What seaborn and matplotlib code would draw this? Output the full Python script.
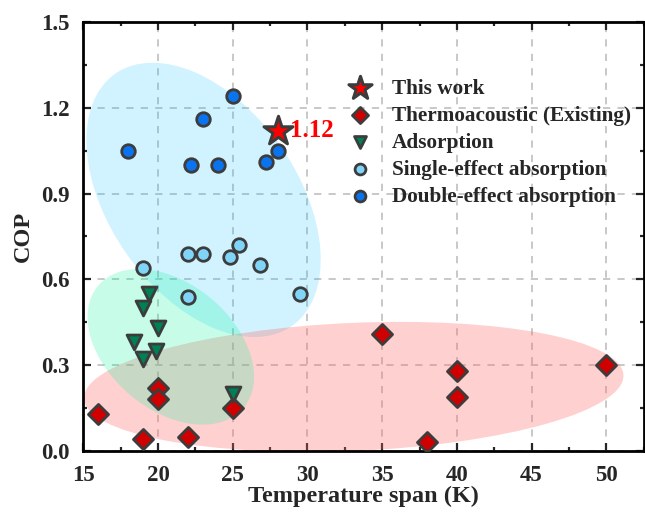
import numpy as np
import pandas as pd
import matplotlib.pyplot as plt
import seaborn as sns
from matplotlib.patches import Ellipse
from matplotlib.transforms import Affine2D
from matplotlib.ticker import MultipleLocator, AutoMinorLocator

# ---------------------------------------------------------------
# data (temperature span in K, COP)
# ---------------------------------------------------------------
this_work_x = [28]
this_work_cop = [1.12]

thermo_x = [16, 19, 20, 20, 22, 25, 35, 38, 40, 40, 50]
thermo_cop = [0.13, 0.04, 0.22, 0.18, 0.05, 0.15, 0.41, 0.03, 0.28, 0.19, 0.30]

adsorp_x = [19.4, 19.0, 20.0, 18.4, 19.9, 19.0, 25.0]
adsorp_cop = [0.55, 0.50, 0.43, 0.38, 0.35, 0.32, 0.20]

single_x = [19, 22, 23, 24.8, 25.4, 26.8, 22, 29.5]
single_cop = [0.64, 0.69, 0.69, 0.68, 0.72, 0.65, 0.54, 0.55]

double_x = [18, 22.2, 23, 24, 25, 27.2, 28]
double_cop = [1.05, 1.00, 1.16, 1.00, 1.24, 1.01, 1.05]

# shaded regions: centre (K, COP), semi-axes in screen px, angle (deg)
region_names = ["absorption", "thermoacoustic", "adsorption"]
region_centre = [(23.05, 0.878), (33.1, 0.224), (20.86, 0.364)]
region_axes = [(154, 94), (270, 64), (95, 63)]
region_angle = [-55, 2.5, -40]
region_color = ["#00BFFF", "#FF6666", "#00FA9A"]
region_alpha = [0.18, 0.30, 0.22]

EDGE = "#3c3c3c"

sns.set_theme(style="ticks")
plt.rcParams["font.family"] = ["Liberation Serif", "DejaVu Serif"]
plt.rcParams["font.weight"] = "bold"
plt.rcParams["axes.labelweight"] = "bold"
plt.rcParams["mathtext.default"] = "regular"

fig, ax = plt.subplots(figsize=(6.45, 5.13), dpi=100)
fig.subplots_adjust(left=0.129, right=0.998, bottom=0.121, top=0.957)

XMIN, XMAX, YMIN, YMAX = 15, 52.5, 0, 1.5
ax.set_xlim(XMIN, XMAX)
ax.set_ylim(YMIN, YMAX)

# px per data unit, used to draw the ellipses in screen proportions
pos = ax.get_position()
sx = pos.width * fig.get_figwidth() * fig.dpi / (XMAX - XMIN)
sy = pos.height * fig.get_figheight() * fig.dpi / (YMAX - YMIN)
to_data = Affine2D().scale(1 / sx, 1 / sy) + ax.transData

for (cx, cy), (a, b), ang, col, al in zip(region_centre, region_axes,
                                           region_angle, region_color, region_alpha):
    e = Ellipse((cx * sx, cy * sy), 2 * a, 2 * b, angle=ang,
                facecolor=col, edgecolor="none", alpha=al, transform=to_data, zorder=1)
    ax.add_patch(e)

# scatter groups
sns.scatterplot(x=this_work_x, y=this_work_cop, marker="*", s=480, color="#ff0000",
                edgecolor=EDGE, linewidth=2.2, label="This work", zorder=5, ax=ax)
sns.scatterplot(x=thermo_x, y=thermo_cop, marker="D", s=105, color="#d00000",
                edgecolor=EDGE, linewidth=2, label="Thermoacoustic (Existing)", zorder=4, ax=ax)
sns.scatterplot(x=adsorp_x, y=adsorp_cop, marker="v", s=115, color="#008055",
                edgecolor=EDGE, linewidth=2, label="Adsorption", zorder=4, ax=ax)
sns.scatterplot(x=single_x, y=single_cop, marker="o", s=95, color="#80d4f8",
                edgecolor=EDGE, linewidth=2, label="Single-effect absorption", zorder=4, ax=ax)
sns.scatterplot(x=double_x, y=double_cop, marker="o", s=95, color="#0a74f0",
                edgecolor=EDGE, linewidth=2, label="Double-effect absorption", zorder=4, ax=ax)

ax.text(this_work_x[0] + 0.85, this_work_cop[0], f"{this_work_cop[0]:.2f}", color="#ff0000",
        fontsize=18, fontweight="bold", va="center", ha="left", zorder=6)

# axes styling
ax.xaxis.set_major_locator(MultipleLocator(5))
ax.yaxis.set_major_locator(MultipleLocator(0.3))
ax.xaxis.set_minor_locator(AutoMinorLocator(2))
ax.yaxis.set_minor_locator(AutoMinorLocator(2))
ax.yaxis.set_major_formatter(plt.FormatStrFormatter("%.1f"))
ax.tick_params(which="both", direction="in", top=True, right=True, width=1.6,
               labelsize=16.5)
ax.tick_params(axis="x", pad=10)
ax.tick_params(axis="y", pad=10)
ax.tick_params(which="major", length=6)
ax.tick_params(which="minor", length=3)
for lab in ax.get_xticklabels() + ax.get_yticklabels():
    lab.set_fontweight("bold")
for sp in ax.spines.values():
    sp.set_linewidth(2)
    sp.set_color("black")

ax.grid(True, which="major", linestyle=(0, (4, 4)), color="#c4c4c4", linewidth=1.3)
ax.set_axisbelow(True)

ax.set_xlabel("Temperature span (K)", fontsize=17.5, fontweight="bold", labelpad=0)
ax.set_ylabel("COP", fontsize=17.5, fontweight="bold", labelpad=5)

ax.legend(loc="upper left", bbox_to_anchor=(0.442, 0.887), frameon=False,
          prop={"family": "Liberation Serif", "weight": "bold", "size": 15.3},
          markerscale=0.8, handlelength=1.9, handletextpad=0.55, labelspacing=0.33,
          borderaxespad=0)

fig.savefig("out.png", dpi=100)
